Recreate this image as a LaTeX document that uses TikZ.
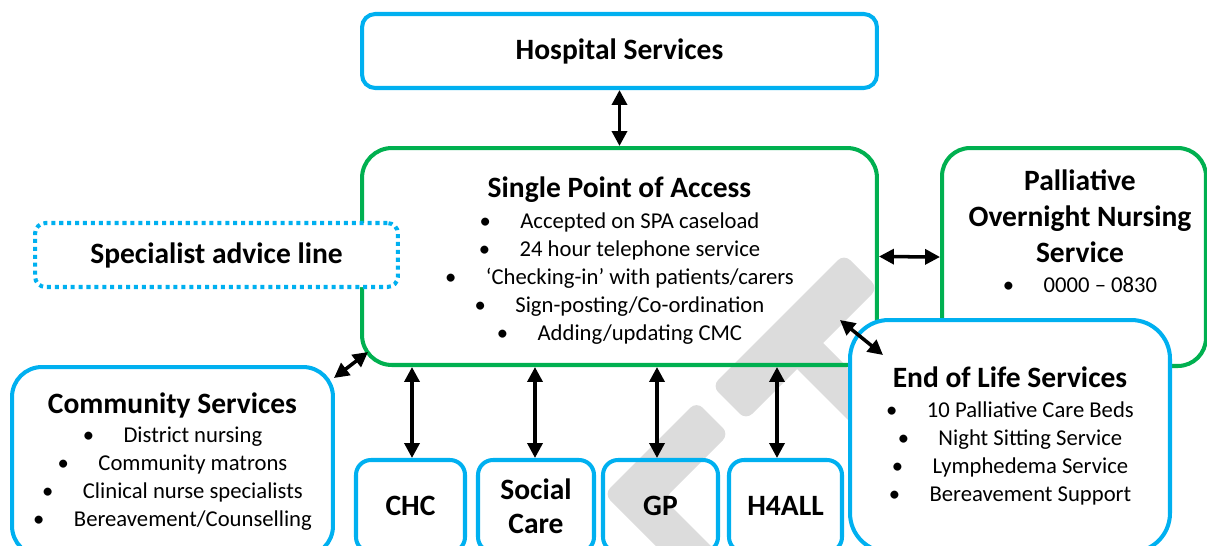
\documentclass[tikz,border=0pt]{standalone}
\usepackage{fontspec}
\setmainfont{Carlito}
\usetikzlibrary{arrows.meta,calc}

\definecolor{boxblue}{HTML}{00B0F0}
\definecolor{boxgreen}{HTML}{00B050}
\definecolor{markgray}{HTML}{DCDCDC}

% heading and body sizes
\newcommand{\hd}{\fontsize{16.8}{20.5}\selectfont\bfseries}
\newcommand{\bd}{\fontsize{12.9}{15.9}\selectfont}
\newcommand{\itm}[1]{\textbullet\hspace{1.3em}#1}

\begin{document}
\begin{tikzpicture}[x=0.02cm,y=-0.02cm,
		svcbox/.style={line width=2.3pt,inner sep=0pt,align=center,font=\bd},
		bluebox/.style={svcbox,draw=boxblue,rounded corners=#1},
		greenbox/.style={svcbox,draw=boxgreen,rounded corners=#1},
		dbl/.style={{Triangle[length=8.5pt,width=8.5pt]}-{Triangle[length=8.5pt,width=8.5pt]},line width=2pt},
		txt/.style={align=center,font=\bd,inner sep=0pt}]
	\clip (0,0) rectangle (1207,545);
	% grey mark in the background
	\fill[markgray,rounded corners=5pt] (712,386) -- (844,254) -- (878,288) -- (746,420) -- cycle;
	\fill[markgray] (794,366) -- (820,340) -- (900,420) -- (874,446) -- cycle;
	\fill[markgray,rounded corners=5pt] (696.5,401.5) -- (604,494) -- (755,645) -- (782.5,617.5) -- (664,499) -- (729,434) -- cycle;
	% top
	\node[bluebox=7.5pt,minimum width=10.3cm,minimum height=1.48cm] (hosp) at (619.5,51) {\hd Hospital Services};
	% single point of access
	\node[greenbox=17pt,minimum width=10.3cm,minimum height=4.34cm] (spa) at (619.5,256.5) {};
	\node[txt] (spatxt) at (619.5,260.5) {%
		{\hd Single Point of Access}\\[1.5pt]
		\itm{Accepted on SPA caseload}\\
		\itm{24 hour telephone service}\\
		\itm{‘Checking-in’ with patients/carers}\\
		\itm{Sign-posting/Co-ordination}\\
		\itm{Adding/updating CMC}};
	% overnight nursing
	\node[greenbox=16pt,fill=white,minimum width=5.28cm,minimum height=4.36cm] (pall) at (1074,257) {};
	\node[txt] (palltxt) at (1080,231) {%
		{\hd Palliative}\\[4.6pt]
		{\hd Overnight Nursing}\\[4.6pt]
		{\hd Service}\\[1pt]
		\itm{0000 – 0830}};
	% advice line
	\node[bluebox=6pt,dash pattern=on 2.3pt off 2.2pt,fill=white,minimum width=7.26cm,minimum height=1.28cm] (advice) at (216.5,255) {\hd Specialist advice line};
	% end of life
	\node[bluebox=22pt,fill=white,minimum width=6.4cm,minimum height=4.64cm] (eol) at (1010,436) {%
		{\hd End of Life Services}\\[1pt]
		\itm{10 Palliative Care Beds}\\
		\itm{Night Sitting Service}\\
		\itm{Lymphedema Service}\\
		\itm{Bereavement Support}};
	% community
	\node[bluebox=17pt,minimum width=6.42cm,minimum height=3.78cm] (comm) at (172.5,461.5) {%
		{\hd Community Services}\\[1pt]
		\itm{District nursing}\\
		\itm{Community matrons}\\
		\itm{Clinical nurse specialists}\\
		\itm{Bereavement/Counselling}};
	% bottom row
	\foreach \nm/\x/\w/\lbl in {chc/410.5/2.18/CHC, social/536/2.32/{Social\\[-1pt]Care}, gp/660.5/2.3/GP, h4all/785.5/2.26/H4ALL}
		\node[bluebox=8.5pt,font=\hd,minimum width=\w cm,minimum height=1.84cm] (\nm) at (\x,506) {\lbl};
	% links
	\draw[dbl] (hosp.south) -- (spa.north);
	\draw[dbl] (spa.east) -- (pall.west);
	\draw[dbl] ($(spa.south east)+(-39,-47)$) -- ($(eol.north west)+(35,37)$);
	\draw[dbl] ($(spa.south west)+(8,-15)$) -- ($(comm.north east)+(-1,13)$);
	\foreach \nm/\dx in {chc/1.5,social/-1,gp/-3.5,h4all/-8.5}
		\draw[dbl] ($(\nm.north |- spa.south)+(\dx,0)$) -- ($(\nm.north)+(\dx,0)$);
\end{tikzpicture}
\end{document}
